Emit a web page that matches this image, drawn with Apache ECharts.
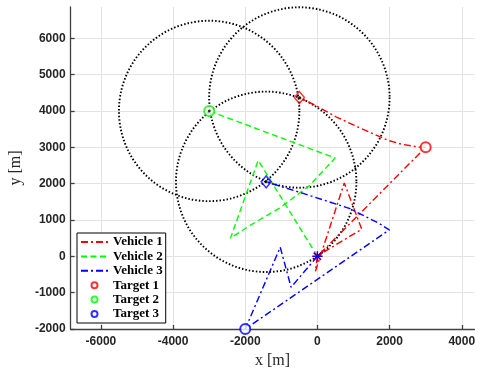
<!DOCTYPE html>
<html>
<head>
<meta charset="utf-8">
<script src="https://cdn.jsdelivr.net/npm/echarts@6/dist/echarts.min.js"></script>
<style>
  html, body { margin: 0; padding: 0; background: #fff; }
  #chart { width: 478px; height: 374px; }
</style>
</head>
<body>
<div id="chart"></div>
<script>
// tick values
var xTicks = [-6000, -4000, -2000, 0, 2000, 4000]
var yTicks = [-2000, -1000, 0, 1000, 2000, 3000, 4000, 5000, 6000]

// vehicle paths [x, y] in metres
var vehicle1 = [[0, 0], [-55, -410], [745, 2020], [1228, 746], [30, 30], [3000, 3000],
  [2802, 3005], [2350, 3080], [1973, 3186], [1236, 3505], [527, 3833], [-128, 4189], [-500, 4370]]
var vehicle2 = [[0, 0], [-1640, 2640], [-2410, 500], [-1842, 863], [-1029, 1339],
  [-210, 1956], [491, 2705], [-3000, 4000]]
var vehicle3 = [[0, 0], [-730, -850], [-1030, 250], [-2000, -2000], [1992, 727],
  [1700, 910], [1427, 1046], [881, 1320], [-393, 1730], [-1420, 2050]]

// targets
var target1 = [[3000, 3000]]
var target2 = [[-3000, 4000]]
var target3 = [[-2000, -2000]]

// end points (diamonds)
var end1 = [[-500, 4370]]
var end3 = [[-1420, 2050]]

// range circles [cx, cy, r]
var circles = [[-3000, 4000, 2500], [-500, 4370, 2500], [-1420, 2050, 2500]]
var start = [[0, 0]]

var chart = echarts.init(document.getElementById('chart'))

function vehicleSeries(name, data, color, dash) {
  return {
    name: name,
    type: 'line',
    data: data,
    symbol: 'none',
    z: 3,
    lineStyle: { color: color, width: 1.4, type: dash },
    itemStyle: { color: color }
  }
}

function targetSeries(name, data, color) {
  return {
    name: name,
    type: 'scatter',
    data: data,
    symbol: 'emptyCircle',
    symbolSize: 10,
    z: 5,
    itemStyle: { color: color, borderColor: color, borderWidth: 1.5 }
  }
}

function diamondSeries(data, color) {
  return {
    type: 'scatter',
    data: data,
    symbol: 'diamond',
    symbolSize: [10, 12],
    z: 5,
    itemStyle: { color: 'transparent', borderColor: color, borderWidth: 1.5 }
  }
}

function starSeries(color, z) {
  return {
    type: 'custom',
    data: start,
    z: z,
    encode: { x: 0, y: 1 },
    renderItem: function(params, api) {
      var c = api.coord([api.value(0), api.value(1)])
      var s = 5
      var d = 3.6
      var st = { stroke: color, lineWidth: 1.3 }
      return {
        type: 'group',
        children: [
          { type: 'line', shape: { x1: c[0] - s, y1: c[1], x2: c[0] + s, y2: c[1] }, style: st },
          { type: 'line', shape: { x1: c[0], y1: c[1] - s, x2: c[0], y2: c[1] + s }, style: st },
          { type: 'line', shape: { x1: c[0] - d, y1: c[1] - d, x2: c[0] + d, y2: c[1] + d }, style: st },
          { type: 'line', shape: { x1: c[0] - d, y1: c[1] + d, x2: c[0] + d, y2: c[1] - d }, style: st }
        ]
      }
    }
  }
}

var tickFont = { color: '#262626', fontWeight: 'bold', fontSize: 12, fontFamily: 'Liberation Sans' }
var axisLineStyle = { color: '#404040', width: 1.3 }
var plain = function(v) { return String(v) }
var hideSymbol = { opacity: 0 }

chart.setOption({
  animation: false,
  backgroundColor: '#fff',
  grid: { left: 67, right: 1, top: 7, bottom: 43 },
  xAxis: {
    type: 'value',
    min: -6840,
    max: 4350,
    name: 'x [m]',
    nameLocation: 'middle',
    nameGap: 24,
    nameTextStyle: { fontFamily: 'Liberation Serif', fontSize: 16, color: '#262626' },
    axisLine: { show: true, onZero: false, lineStyle: axisLineStyle },
    axisTick: { show: true, inside: true, length: 4, customValues: xTicks, lineStyle: axisLineStyle },
    axisLabel: Object.assign({ customValues: xTicks, margin: 7, formatter: plain }, tickFont),
    splitLine: { show: true, lineStyle: { color: '#e3e3e3', width: 1 } }
  },
  yAxis: {
    type: 'value',
    min: -2000,
    max: 6860,
    name: 'y [m]',
    nameLocation: 'middle',
    nameGap: 44,
    nameTextStyle: { fontFamily: 'Liberation Serif', fontSize: 16, color: '#262626' },
    axisLine: { show: true, onZero: false, lineStyle: axisLineStyle },
    axisTick: { show: true, inside: true, length: 4, customValues: yTicks, lineStyle: axisLineStyle },
    axisLabel: Object.assign({ customValues: yTicks, margin: 5, formatter: plain }, tickFont),
    splitLine: { show: true, lineStyle: { color: '#e3e3e3', width: 1 } }
  },
  legend: {
    orient: 'vertical',
    left: 77,
    top: 233,
    padding: [2, 3, 2, 3],
    itemGap: 0.4,
    itemWidth: 27,
    itemHeight: 6,
    backgroundColor: '#fff',
    borderColor: '#000',
    borderWidth: 1,
    borderRadius: 0,
    textStyle: { fontFamily: 'Liberation Serif', fontWeight: 'bold', fontSize: 13, color: '#000', lineHeight: 14 },
    data: [
      { name: 'Vehicle 1', itemStyle: hideSymbol },
      { name: 'Vehicle 2', itemStyle: hideSymbol },
      { name: 'Vehicle 3', itemStyle: hideSymbol },
      { name: 'Target 1', itemStyle: { borderWidth: 1.6 } },
      { name: 'Target 2', itemStyle: { borderWidth: 1.6 } },
      { name: 'Target 3', itemStyle: { borderWidth: 1.6 } }
    ]
  },
  series: [
    {
      type: 'custom',
      data: circles,
      z: 2,
      encode: { x: 0, y: 1 },
      renderItem: function(params, api) {
        var c = api.coord([api.value(0), api.value(1)])
        var r = api.size([api.value(2), 0])[0]
        return {
          type: 'circle',
          shape: { cx: c[0], cy: c[1], r: r },
          style: { fill: 'none', stroke: '#000', lineWidth: 1.9, lineDash: [1.5, 2] }
        }
      }
    },
    vehicleSeries('Vehicle 1', vehicle1, '#ff0000', [7, 3, 2, 3]),
    vehicleSeries('Vehicle 2', vehicle2, '#00ff00', [6, 3.5]),
    vehicleSeries('Vehicle 3', vehicle3, '#0000ff', [7, 3, 2, 3]),
    targetSeries('Target 1', target1, '#ff0000'),
    targetSeries('Target 2', target2, '#00ff00'),
    targetSeries('Target 3', target3, '#0000ff'),
    diamondSeries(end1, '#ff0000'),
    diamondSeries(end3, '#0000ff'),
    {
      type: 'scatter',
      data: circles.map(function(c) { return [c[0], c[1]] }),
      symbol: 'circle',
      symbolSize: 3,
      z: 6,
      itemStyle: { color: '#000' }
    },
    starSeries('#ff0000', 6),
    starSeries('#0000ff', 7)
  ]
})
</script>
</body>
</html>
